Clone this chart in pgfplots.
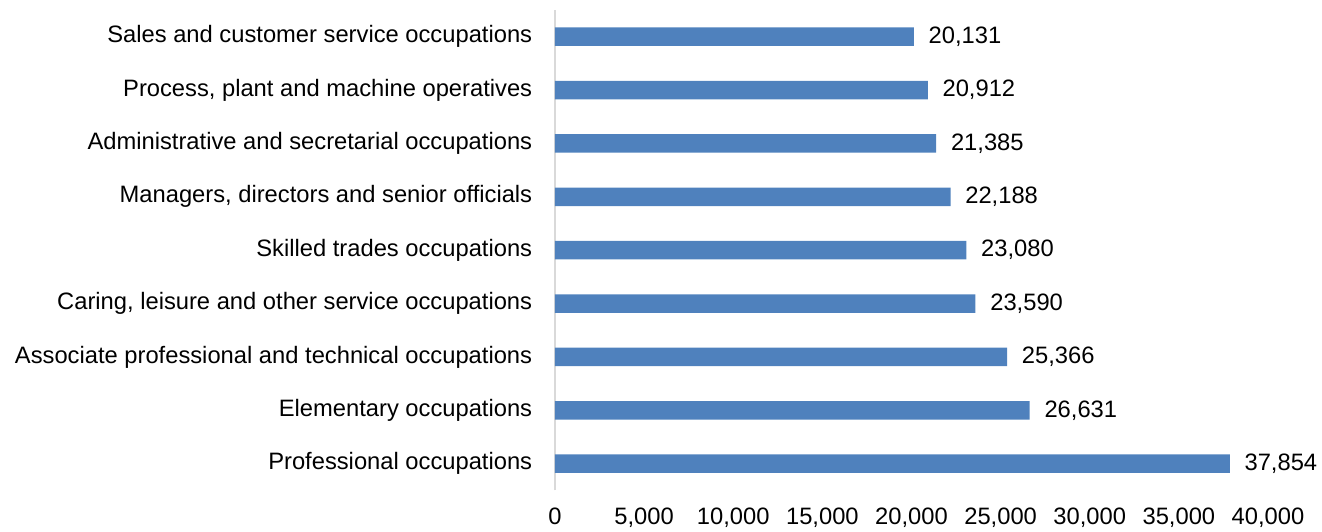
\documentclass[border=0pt]{standalone}
\usepackage{fontspec}
\setmainfont{Liberation Sans}
\usepackage{pgfplots}
\pgfplotsset{compat=1.18}
\definecolor{barblue}{HTML}{4F81BD}
\definecolor{axisgray}{HTML}{D9D9D9}
\begin{document}
\fontsize{17.8}{21}\selectfont
\begin{tikzpicture}
\begin{axis}[
  scale only axis,
  width=534.75pt,
  height=360.3pt,
  xbar,
  bar width=13.9pt,
  xmin=0, xmax=40000,
  ymin=-0.5, ymax=8.5,
  ytick={0,...,8},
  yticklabels={Professional occupations,Elementary occupations,Associate professional and technical occupations,{Caring, leisure and other service occupations},Skilled trades occupations,{Managers, directors and senior officials},Administrative and secretarial occupations,{Process, plant and machine operatives},Sales and customer service occupations},
  xtick={0,5000,...,40000},
  major tick length=0pt,
  axis lines*=left,
  x axis line style={draw=none},
  y axis line style={draw=axisgray, line width=1pt},
  /pgf/number format/assume math mode=true,
  /pgf/number format/.cd, 1000 sep={,}, /pgfplots/.cd,
  scaled x ticks=false,
  xticklabel style={yshift=-6.7pt},
  yticklabel style={xshift=-11pt},
  tick label style={font=\fontsize{17.8}{21}\selectfont},
  nodes near coords,
  nodes near coords style={font=\fontsize{17.8}{21}\selectfont, xshift=5pt},
  clip=false,
]
\addplot[fill=barblue, draw=none] coordinates {
(37854,0) (26631,1) (25366,2) (23590,3) (23080,4) (22188,5) (21385,6) (20912,7) (20131,8)};
\end{axis}
\pgfresetboundingbox
\path ([xshift=-416.25pt,yshift=7.5pt]current axis.north west) rectangle ([xshift=40.5pt,yshift=-30.45pt]current axis.south east);
\end{tikzpicture}
\end{document}
